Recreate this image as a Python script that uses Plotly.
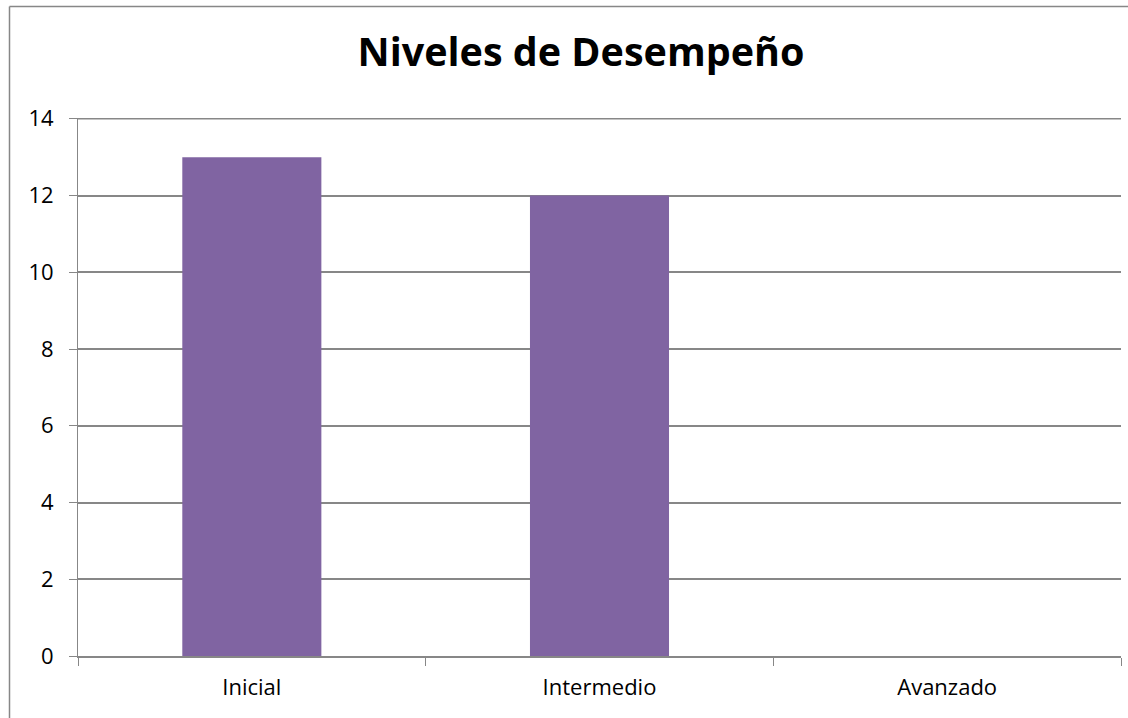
import plotly.graph_objects as go

categories = ["Inicial", "Intermedio", "Avanzado"]
values = [13, 12, 0]
y_ticks = [0, 2, 4, 6, 8, 10, 12, 14]

W, H = 1128, 718
L, R, T, B = 78, 7, 118, 62
pw = W - L - R
ph = H - T - B
GRID = "#878787"

fig = go.Figure(go.Bar(x=categories, y=values, marker_color="#8064A2",
                       width=0.4, marker_line_width=0))

fig.update_layout(
    width=W, height=H,
    margin=dict(l=L, r=R, t=T, b=B, pad=0),
    paper_bgcolor="white", plot_bgcolor="white",
    title=dict(text="<b>Niveles de Desempeño</b>", x=581/W, xanchor="center",
               y=1 - 52/H, yanchor="middle",
               font=dict(family="Open Sans", size=39.5, color="black")),
    font=dict(family="Open Sans", size=22, color="black"),
    showlegend=False,
    xaxis=dict(type="category", tickson="boundaries", ticks="outside", ticklen=8,
               tickcolor=GRID, showline=True, linecolor=GRID, linewidth=2,
               showgrid=False, tickfont=dict(size=22, color="black"),
               range=[-0.5, 2.5], ticklabelstandoff=11),
    yaxis=dict(range=[0, 14.02], tickvals=y_ticks,
               ticks="outside", ticklen=8,
               tickcolor=GRID, showline=True, linecolor=GRID, linewidth=1,
               showgrid=True, gridcolor=GRID, gridwidth=1.5,
               zeroline=False, tickfont=dict(size=22, color="black"),
               ticklabelstandoff=11),
)

# top gridline at the maximum tick
fig.add_shape(type="line", xref="paper", yref="y", x0=0, x1=1,
              y0=y_ticks[-1], y1=y_ticks[-1],
              line=dict(color=GRID, width=1.5), layer="below")

# chart-area border: only left and top edges are inside the picture
bx0 = (9.5 - L) / pw
by1 = (H - B - 6.5) / ph
fig.add_shape(type="line", xref="paper", yref="paper",
              x0=bx0, x1=bx0, y0=-(B + 10) / ph, y1=by1,
              line=dict(color=GRID, width=1.5), layer="below")
fig.add_shape(type="line", xref="paper", yref="paper",
              x0=bx0, x1=(W + 10 - L) / pw, y0=by1, y1=by1,
              line=dict(color=GRID, width=1.5), layer="below")

fig.write_html("out.html", config={"displayModeBar": False},
               post_script="document.body.style.margin='0';document.body.style.overflow='hidden';")
